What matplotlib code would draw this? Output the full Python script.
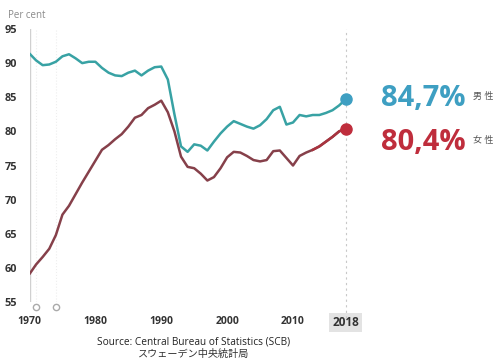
import numpy as np
import matplotlib
matplotlib.use("Agg")
import matplotlib.pyplot as plt

plt.rcParams['font.family'] = ['Open Sans', 'Noto Sans CJK JP', 'DejaVu Sans']

years = list(range(1970, 2019))
men = [91.4, 90.4, 89.7, 89.8, 90.2, 91.0, 91.3, 90.7, 90.0, 90.2,
       90.2, 89.3, 88.6, 88.2, 88.1, 88.6, 88.9, 88.2, 88.9, 89.4,
       89.5, 87.6, 82.5, 77.8, 77.0, 78.1, 77.9, 77.2, 78.5, 79.7,
       80.7, 81.5, 81.1, 80.7, 80.4, 80.9, 81.8, 83.1, 83.6, 81.0,
       81.3, 82.4, 82.2, 82.4, 82.4, 82.7, 83.1, 83.8, 84.7]
women = [59.1, 60.5, 61.6, 62.8, 64.8, 67.8, 69.1, 70.8, 72.5, 74.1,
         75.7, 77.3, 78.0, 78.85, 79.6, 80.7, 82.0, 82.4, 83.4, 83.9,
         84.5, 82.8, 80.0, 76.3, 74.8, 74.6, 73.8, 72.8, 73.3, 74.6,
         76.2, 77.0, 76.9, 76.4, 75.8, 75.6, 75.8, 77.1, 77.2, 76.1,
         75.0, 76.4, 76.9, 77.3, 77.8, 78.5, 79.2, 80.0, 80.4]
event_years = [1971, 1974]
yticks = [55, 60, 65, 70, 75, 80, 85, 90, 95]
xticks = [1970, 1980, 1990, 2000, 2010, 2018]
labels = [("84,7%", "男 性"), ("80,4%", "女 性")]

TEAL = "#38a2a4"
TEAL_DOT = "#3e9fc2"
MAROON = "#86404a"
RED = "#bf2d3c"

fig = plt.figure(figsize=(5, 3.59), dpi=100)
ax = fig.add_axes([29.5 / 500, 1 - 302 / 359, (345.7 - 29.5) / 500, (302 - 29) / 359])
ax.set_xlim(1970, 2018)
ax.set_ylim(55, 95)
for s in ax.spines.values():
    s.set_visible(False)
ax.axvline(1970, color="#d0d0d0", lw=1, ymax=1.0)
for ey in event_years:
    ax.axvline(ey, color="#eeeeee", lw=0.8, ls=":")
    ax.plot(ey, 54.3, "o", ms=4.5, mfc="white", mec="#aaaaaa", mew=1, clip_on=False)
ax.axvline(2018, color="#c8c8c8", lw=0.8, ls=(0, (2, 3)), ymin=-0.06, ymax=1.0, clip_on=False)

ax.plot(years, men, color=TEAL, lw=1.8, solid_capstyle="round")
ax.plot(years, women, color=MAROON, lw=1.8, solid_capstyle="round")
ax.plot(years[-6:], women[-6:], color="#a8343f", lw=1.8)
ax.plot(years[-1], men[-1], "o", ms=8, color=TEAL_DOT, clip_on=False, zorder=5)
ax.plot(years[-1], women[-1], "o", ms=8, color=RED, clip_on=False, zorder=5)

ax.set_yticks(yticks)
ax.set_yticklabels([str(v) for v in yticks], fontsize=7.8, fontweight="bold", color="#333333")
ax.set_xticks(xticks)
ax.set_xticklabels([str(v) for v in xticks], fontsize=7.5, fontweight="bold", color="#333333")
ax.tick_params(axis="y", length=0, pad=9)
ax.tick_params(axis="x", length=0, pad=10)
last = ax.get_xticklabels()[-1]
last.set_fontsize(8.5)
last.set_bbox(dict(boxstyle="square,pad=0.25", fc="#e3e3e3", ec="none"))

fig.text(8 / 500, 1 - 15 / 359, "Per cent", fontsize=7, color="#8a8a8a", va="center")

# label block sits a bit below the red dot in the original
for (val, lab), yv, col in zip(labels, [men[-1] + 0.1, women[-1] - 2.0], [TEAL_DOT, RED]):
    ax.text(2023.4, yv, val, fontsize=21, fontweight="bold", color=col, va="center", ha="left", clip_on=False)
    ax.text(2037.4, yv + 0.3, lab, fontsize=6.5, color="#555555", va="center", ha="left", clip_on=False)

fig.text(194 / 500, 1 - 342 / 359, "Source: Central Bureau of Statistics (SCB)", fontsize=7.3, color="#222222",
         ha="center", va="center")
fig.text(194 / 500, 1 - 354 / 359, "スウェーデン中央統計局", fontsize=7.3, color="#333333",
         ha="center", va="center")

fig.savefig("out.png", dpi=100)
